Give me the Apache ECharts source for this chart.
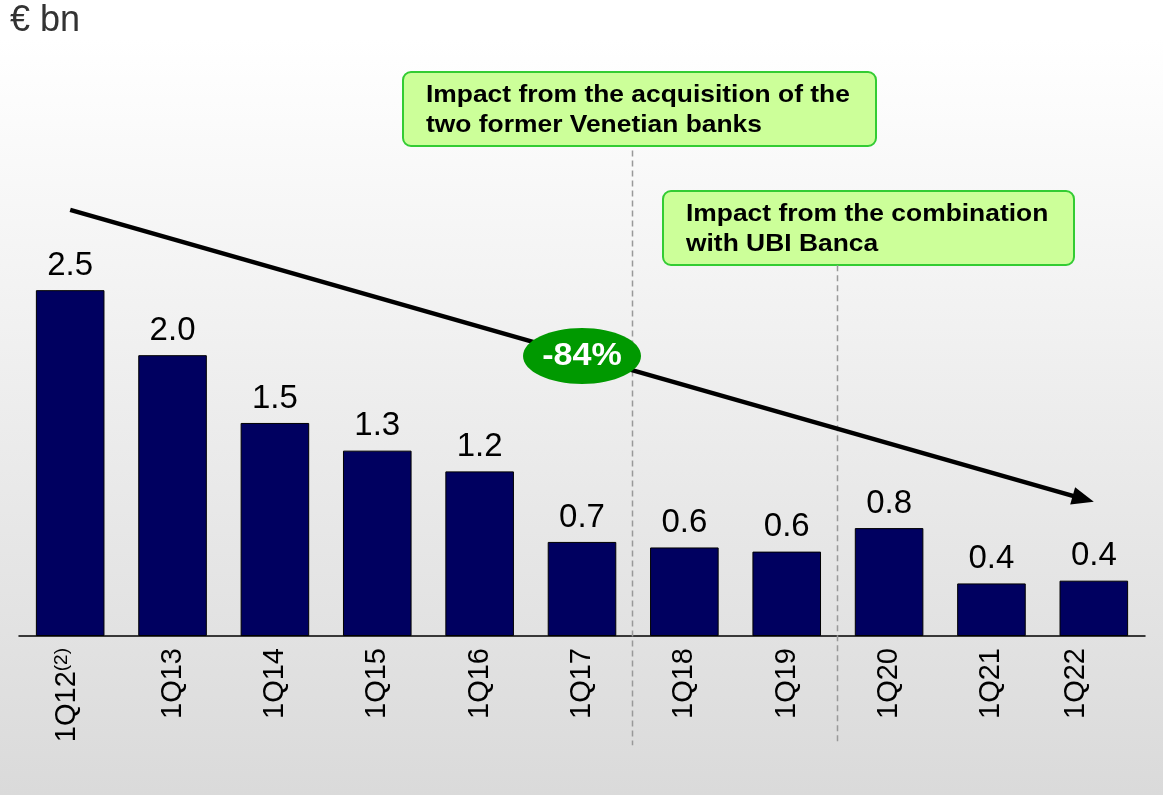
<!DOCTYPE html>
<html>
<head>
<meta charset="utf-8">
<style>
  html, body { margin: 0; padding: 0; background: #ffffff; }
  #chart { width: 1163px; height: 795px; }
</style>
<script src="https://cdn.jsdelivr.net/npm/echarts@6/dist/echarts.min.js"></script>
</head>
<body>
<div id="chart"></div>
<script>
// Quarterly values, € bn
const quarters = ['1Q12', '1Q13', '1Q14', '1Q15', '1Q16', '1Q17', '1Q18', '1Q19', '1Q20', '1Q21', '1Q22'];
const values = [2.5, 2.03, 1.54, 1.34, 1.19, 0.68, 0.64, 0.61, 0.78, 0.38, 0.40];
const footnoteMark = '(2)';

// Trend arrow: [startIndex, startValue, endIndex, endValue]
const trend = [[0, 3.08, 10, 0.97]];
const trendLabel = '-84%';

// Divider lines between two quarters: [leftIndex, topValue, bottomValue]
const dividers = [[5, 3.51, -0.79], [7, 2.68, -0.77]];

// Annotation texts
const noteVenetian = 'Impact from the acquisition of the\ntwo former Venetian banks';
const noteUbi = 'Impact from the combination\nwith UBI Banca';
const unitLabel = '€ bn';

const FONT = '"Liberation Sans", Arial, sans-serif';
const chart = echarts.init(document.getElementById('chart'));

function noteBox(x, y, w, h, text) {
  return {
    type: 'group', x: x, y: y, z: 100,
    children: [
      { type: 'rect', shape: { x: 0, y: 0, width: w, height: h, r: 8 },
        style: { fill: '#ccff99', stroke: '#33cc33', lineWidth: 2 } },
      { type: 'text', x: 23, y: h / 2 + 1, scaleX: 1.1,
        style: { text: text, font: 'bold 24px ' + FONT, fill: '#000', lineHeight: 30,
                 verticalAlign: 'middle', align: 'left' } }
    ]
  };
}

const option = {
  animation: false,
  graphic: [
    { type: 'rect', z: -100, silent: true,
      shape: { x: 0, y: 39, width: 1163, height: 756 },
      style: { fill: new echarts.graphic.LinearGradient(0, 0, 0, 1, [
        { offset: 0, color: '#ffffff' }, { offset: 1, color: '#dadada' }]) } },
    { type: 'text', x: 10, y: 21, z: 100,
      style: { text: unitLabel, font: '36px ' + FONT, fill: '#333333', verticalAlign: 'middle' } },
    noteBox(403, 72, 473, 74, noteVenetian),
    noteBox(663, 191, 411, 74, noteUbi)
  ],
  grid: { left: 19, right: 18, top: 221, bottom: 159 },
  xAxis: {
    type: 'category',
    data: quarters.map((q, i) => {
      if (i === 0) return { value: q, textStyle: { padding: [0, 0, 6, 0] } };
      if (q === '1Q22') return { value: q, textStyle: { padding: [0, 0, 36, 0] } };
      return q;
    }),
    axisLine: { lineStyle: { color: '#000', width: 1.5 } },
    axisTick: { show: false },
    axisLabel: {
      rotate: 90, margin: 12, color: '#000', fontSize: 29, fontFamily: FONT,
      interval: 0,
      formatter: (v, i) => i === 0 ? '{m|' + v + '}{s|' + footnoteMark + '}' : v,
      rich: {
        m: { fontSize: 29, fontFamily: FONT, color: '#000', lineHeight: 29,
             verticalAlign: 'bottom', padding: [8, 0, 0, 0] },
        s: { fontSize: 19, fontFamily: FONT, color: '#000', lineHeight: 22, verticalAlign: 'top' }
      }
    }
  },
  yAxis: { type: 'value', min: 0, max: 3, show: false, splitLine: { show: false } },
  series: [
    {
      type: 'bar', data: values, barWidth: '67%', z: 3,
      itemStyle: { color: '#000060', borderColor: '#000', borderWidth: 1 },
      label: { show: true, position: 'top', distance: 8, color: '#000', fontSize: 33,
               fontFamily: FONT, formatter: p => p.value.toFixed(1) }
    },
    {
      type: 'custom', clip: false, z: 1, silent: true,
      data: dividers,
      renderItem: (params, api) => {
        const i = api.value(0);
        const a = api.coord([i, api.value(1)]);
        const b = api.coord([i + 1, api.value(1)]);
        const c = api.coord([i, api.value(2)]);
        const x = Math.round((a[0] + b[0]) / 2) - 0.5;
        return { type: 'line', shape: { x1: x, y1: a[1], x2: x, y2: c[1] },
                 style: { stroke: '#999999', lineWidth: 1.5, lineDash: [6, 4] } };
      }
    },
    {
      type: 'custom', clip: false, z: 5, silent: true,
      data: trend,
      renderItem: (params, api) => {
        const p0 = api.coord([api.value(0), api.value(1)]);
        const p1 = api.coord([api.value(2), api.value(3)]);
        const dx = p1[0] - p0[0], dy = p1[1] - p0[1];
        const len = Math.sqrt(dx * dx + dy * dy);
        const ux = dx / len, uy = dy / len;
        const headLen = 22, headHalf = 9;
        const bx = p1[0] - ux * headLen, by = p1[1] - uy * headLen;
        const mx = (p0[0] + p1[0]) / 2, my = (p0[1] + p1[1]) / 2;
        return {
          type: 'group',
          children: [
            { type: 'line', shape: { x1: p0[0], y1: p0[1], x2: bx + ux * 2, y2: by + uy * 2 },
              style: { stroke: '#000', lineWidth: 4.5 } },
            { type: 'polygon', shape: { points: [[p1[0], p1[1]],
                [bx - uy * headHalf, by + ux * headHalf], [bx + uy * headHalf, by - ux * headHalf]] },
              style: { fill: '#000' } },
            { type: 'ellipse', shape: { cx: mx, cy: my, rx: 59, ry: 28 },
              style: { fill: '#009900' } },
            { type: 'text', x: mx, y: my + 1, scaleX: 1.1,
              style: { text: trendLabel, font: 'bold 31px ' + FONT, fill: '#fff',
                       align: 'center', verticalAlign: 'middle' } }
          ]
        };
      }
    }
  ]
};
chart.setOption(option);
</script>
</body>
</html>
